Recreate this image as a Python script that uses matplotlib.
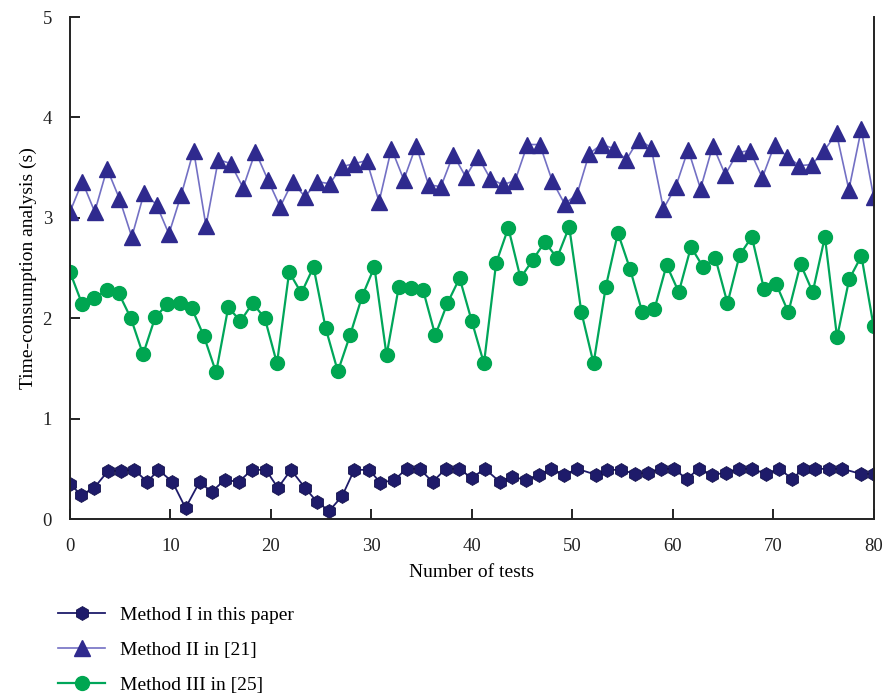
import numpy as np
import matplotlib.pyplot as plt

plt.rcParams['font.family'] = ['Liberation Serif', 'DejaVu Serif']

# Method I in this paper (x positions read off the picture, not evenly spaced)
x1 = [0, 1.1, 2.4, 3.8, 5.1, 6.4, 7.7, 8.8, 10.2, 11.5, 12.9, 14.1, 15.4, 16.8,
      18.1, 19.5, 20.7, 22.0, 23.4, 24.6, 25.8, 27.1, 28.3, 29.8, 30.9, 32.3,
      33.5, 34.8, 36.1, 37.4, 38.7, 40.0, 41.3, 42.8, 44.0, 45.4, 46.7, 47.9,
      49.2, 50.5, 52.4, 53.5, 54.9, 56.2, 57.5, 58.8, 60.1, 61.4, 62.6, 63.9,
      65.3, 66.6, 67.9, 69.3, 70.6, 71.9, 73.0, 74.2, 75.6, 76.9, 78.7, 80.0]
m1 = [0.35, 0.24, 0.31, 0.48, 0.48, 0.49, 0.37, 0.49, 0.37, 0.11, 0.37, 0.27,
      0.39, 0.37, 0.49, 0.49, 0.31, 0.49, 0.31, 0.17, 0.08, 0.23, 0.49, 0.49,
      0.36, 0.39, 0.50, 0.50, 0.37, 0.50, 0.50, 0.41, 0.50, 0.37, 0.42, 0.39,
      0.44, 0.50, 0.44, 0.50, 0.44, 0.49, 0.49, 0.45, 0.46, 0.50, 0.50, 0.40,
      0.50, 0.44, 0.46, 0.50, 0.50, 0.45, 0.50, 0.40, 0.50, 0.50, 0.50, 0.50,
      0.45, 0.45]

# Method II in [21]
m2 = [3.06, 3.36, 3.06, 3.49, 3.19, 2.81, 3.25, 3.13, 2.84, 3.23, 3.67, 2.92,
      3.58, 3.54, 3.30, 3.66, 3.38, 3.11, 3.36, 3.21, 3.36, 3.34, 3.51, 3.54,
      3.57, 3.16, 3.69, 3.38, 3.72, 3.33, 3.31, 3.63, 3.41, 3.61, 3.39, 3.33,
      3.37, 3.73, 3.73, 3.37, 3.14, 3.23, 3.64, 3.73, 3.69, 3.58, 3.78, 3.70,
      3.09, 3.31, 3.68, 3.29, 3.72, 3.43, 3.65, 3.67, 3.40, 3.73, 3.61, 3.52,
      3.53, 3.67, 3.84, 3.28, 3.88, 3.21]

# Method III in [25]
m3 = [2.46, 2.14, 2.20, 2.28, 2.25, 2.00, 1.64, 2.01, 2.14, 2.15, 2.10, 1.82,
      1.46, 2.11, 1.97, 2.15, 2.00, 1.55, 2.46, 2.25, 2.51, 1.90, 1.47, 1.83,
      2.22, 2.51, 1.63, 2.31, 2.30, 2.28, 1.83, 2.15, 2.40, 1.97, 1.55, 2.55,
      2.90, 2.40, 2.58, 2.76, 2.60, 2.91, 2.06, 1.55, 2.31, 2.85, 2.49, 2.06,
      2.09, 2.53, 2.26, 2.71, 2.51, 2.60, 2.15, 2.63, 2.81, 2.29, 2.34, 2.06,
      2.54, 2.26, 2.81, 1.81, 2.39, 2.62, 1.92]

x2 = np.linspace(0, 80, len(m2))
x3 = np.linspace(0, 80, len(m3))

fig = plt.figure(figsize=(8.86, 6.95), dpi=100)
ax = fig.add_axes([0.079, 0.2532, 0.907, 0.7223])

l1, = ax.plot(x1, m1, '-', color='#1e1b6a', lw=1.3, marker='h', ms=10,
              mfc='#1e1b6a', mec='#14124d', mew=0.6, label='Method I in this paper')
l2, = ax.plot(x2, m2, '-', color='#7370c4', lw=1.2, marker='^', ms=11,
              mfc='#2f2a8e', mec='#2f2a8e', label='Method II in [21]')
l3, = ax.plot(x3, m3, '-', color='#00a65a', lw=1.6, marker='o', ms=10,
              mfc='#00a651', mec='#00a651', label='Method III in [25]')

ax.set_xlim(0, 80)
ax.set_ylim(0, 5)
ax.set_xticks(range(0, 81, 10))
ax.set_yticks(range(0, 6))
ax.spines['top'].set_visible(False)
for s in ['left', 'bottom', 'right']:
    ax.spines[s].set_linewidth(1.4)
    ax.spines[s].set_color('#222222')
ax.tick_params(direction='in', length=7, width=1.4, labelsize=13.5,
               colors='#222222')
ax.tick_params(axis='x', pad=14)
ax.tick_params(axis='y', pad=13)
ax.set_xlabel('Number of tests', fontsize=14, labelpad=6)
ax.set_ylabel('Time-consumption analysis (s)', fontsize=14, labelpad=4)

fig.legend(handles=[l1, l2, l3], loc='upper left', bbox_to_anchor=(0.066, 0.128),
           frameon=False, fontsize=14, borderpad=0, borderaxespad=0,
           labelspacing=0.9, handlelength=2.4, handletextpad=0.75)

fig.savefig('out.png', dpi=100)
